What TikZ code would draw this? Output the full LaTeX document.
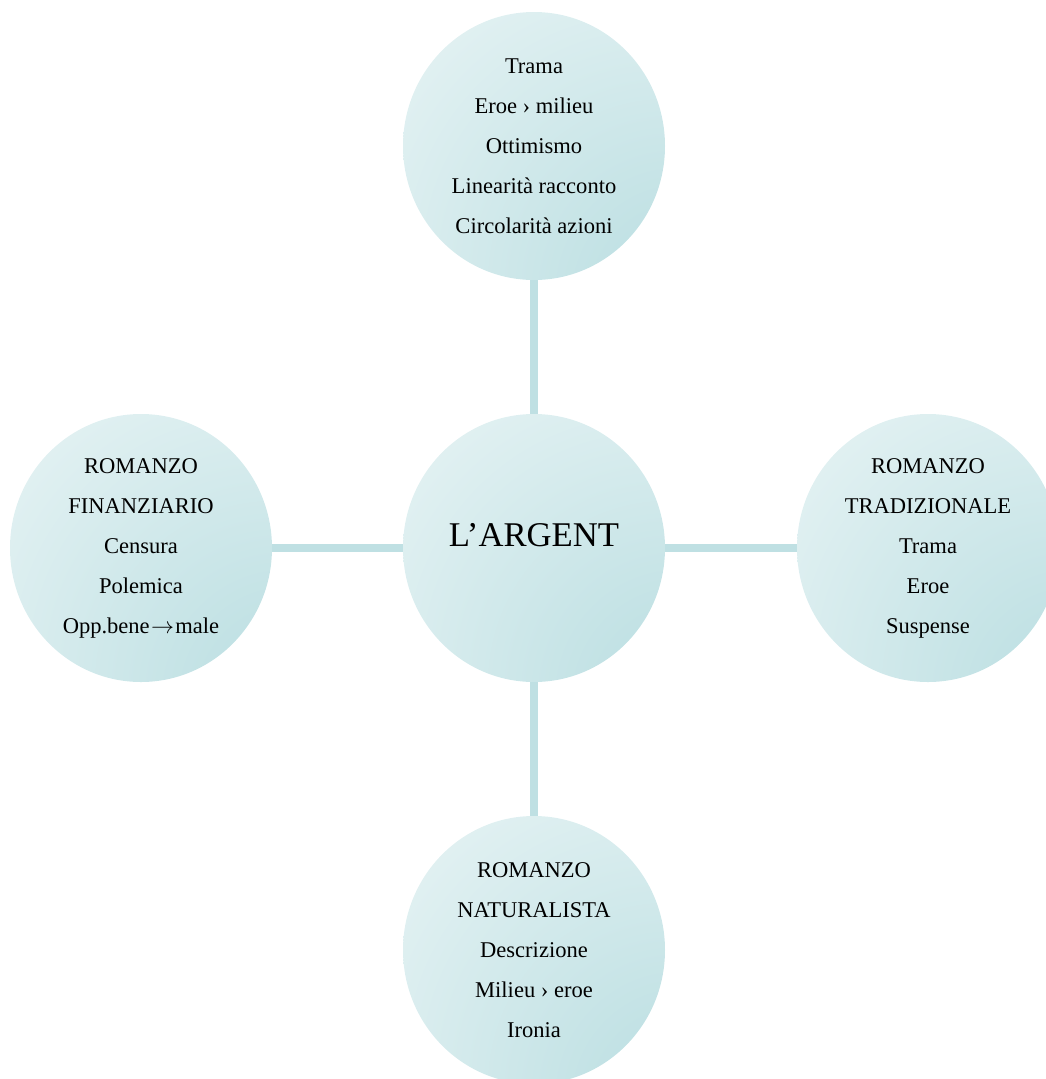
\documentclass[tikz,border=0pt]{standalone}
\usepackage{fontspec}
\setmainfont{Liberation Serif}
\usetikzlibrary{shapes.geometric}
\definecolor{bubdark}{HTML}{BCDFE2}
\definecolor{bublight}{HTML}{E4F2F3}
\definecolor{linkc}{HTML}{BFE0E3}
\pgfdeclareradialshading{bubble}{\pgfpoint{34bp}{-34bp}}{color(0bp)=(bubdark); color(10bp)=(bubdark); color(58bp)=(bublight); color(130bp)=(bublight)}
\tikzset{
  bub/.style={ellipse, shade, shading=bubble, draw=none, inner sep=0pt,
    minimum width=196.5pt, minimum height=201pt, align=center,
    font=\fontsize{16.9pt}{30pt}\selectfont},
  link/.style={draw=linkc, line width=6pt},
  bigtext/.style={font=\fontsize{26pt}{30pt}\selectfont, inner sep=0pt}
}
\begin{document}
\begin{tikzpicture}[x=0.75pt,y=-0.75pt]
\useasboundingbox (0,0) rectangle (1046,1079);
\clip (0,0) rectangle (1046,1079);
\node[bub] (top) at (534,146) {Trama\\Eroe › milieu\\Ottimismo\\Linearità racconto\\Circolarità azioni};
\node[bub] (c) at (534,548) {};
\node[bigtext] (ct) at (534,535) {L’ARGENT};
\node[bub] (left) at (141,548) {ROMANZO\\FINANZIARIO\\Censura\\Polemica\\Opp.bene{\hspace{1pt}$\rightarrow$\hspace{1pt}}male};
\node[bub] (right) at (928,548) {ROMANZO\\TRADIZIONALE\\Trama\\Eroe\\Suspense};
\node[bub] (bot) at (534,950) {ROMANZO\\NATURALISTA\\Descrizione\\Milieu › eroe\\Ironia};
\draw[link] (top) -- (c);
\draw[link] (left) -- (c);
\draw[link] (c) -- (right);
\draw[link] (c) -- (bot);
\end{tikzpicture}
\end{document}
